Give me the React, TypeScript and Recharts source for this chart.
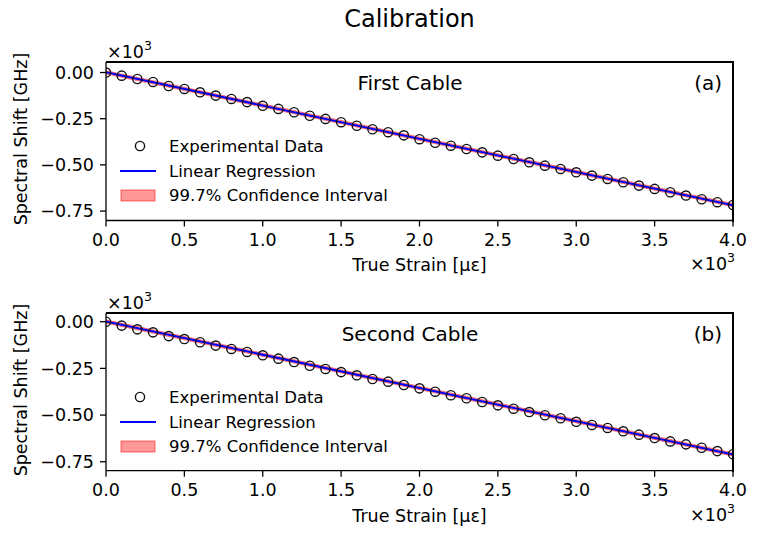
import { ComposedChart, XAxis, YAxis, Area, Line, Scatter } from 'recharts'

document.body.style.margin = '0'

const FONT = '"DejaVu Sans", sans-serif'

// strain in units of 10^3 microstrain
const strain = [
  0, 0.1, 0.2, 0.3, 0.4, 0.5, 0.6, 0.7, 0.8, 0.9,
  1.0, 1.1, 1.2, 1.3, 1.4, 1.5, 1.6, 1.7, 1.8, 1.9,
  2.0, 2.1, 2.2, 2.3, 2.4, 2.5, 2.6, 2.7, 2.8, 2.9,
  3.0, 3.1, 3.2, 3.3, 3.4, 3.5, 3.6, 3.7, 3.8, 3.9, 4.0,
]

// spectral shift in units of 10^3 GHz
const firstShift = [
  0, -0.017, -0.035, -0.051, -0.073, -0.089, -0.107, -0.125, -0.143, -0.160,
  -0.180, -0.197, -0.215, -0.234, -0.251, -0.269, -0.288, -0.307, -0.323, -0.340,
  -0.361, -0.380, -0.396, -0.414, -0.432, -0.450, -0.468, -0.486, -0.504, -0.522,
  -0.540, -0.558, -0.576, -0.594, -0.612, -0.630, -0.648, -0.666, -0.686, -0.702, -0.717,
]
const secondShift = [
  0, -0.021, -0.041, -0.057, -0.077, -0.093, -0.110, -0.128, -0.146, -0.162,
  -0.180, -0.198, -0.216, -0.236, -0.253, -0.270, -0.287, -0.307, -0.321, -0.339,
  -0.357, -0.375, -0.394, -0.410, -0.430, -0.448, -0.466, -0.484, -0.501, -0.517,
  -0.536, -0.553, -0.569, -0.587, -0.605, -0.623, -0.641, -0.657, -0.675, -0.693, -0.710,
]

// regression end points and 99.7% band limits
const fitStrain = [0, 4.0]
const firstFit = [0.001, -0.718]
const firstLow = [-0.008, -0.727]
const firstHigh = [0.010, -0.709]
const secondFit = [0.001, -0.711]
const secondLow = [-0.008, -0.720]
const secondHigh = [0.010, -0.702]

const xTicks = [0, 0.5, 1.0, 1.5, 2.0, 2.5, 3.0, 3.5, 4.0]
const yTicks = [-0.75, -0.5, -0.25, 0]

const fmtY = (v: number) => (v < 0 ? '\u2212' : '') + Math.abs(v).toFixed(2)
const fmtX = (v: number) => v.toFixed(1)

const W = 759
const PANEL_H = 268
const PLOT_LEFT = 106
const PLOT_RIGHT = 733
const AXIS = { stroke: '#000', strokeWidth: 1.3 }
const TICK = { fill: '#000', fontSize: 17.5, fontFamily: FONT }

const OpenCircle = (props: any) => (
  <circle cx={props.cx} cy={props.cy} r={4.6} fill="none" stroke="#111" strokeWidth={1.4} />
)

function Panel({ shift, fit, low, high, domain, plotTop, plotBottom, offset }: {
  shift: number[]; fit: number[]; low: number[]; high: number[]
  domain: [number, number]; plotTop: number; plotBottom: number; offset: number
}) {
  const points = strain.map((x, i) => ({ x, y: shift[i] }))
  const line = fitStrain.map((x, i) => ({ x, y: fit[i] }))
  const band = fitStrain.map((x, i) => ({ x, range: [low[i], high[i]] }))
  const top = plotTop - offset
  const bottom = PANEL_H - (plotBottom - offset) - 30

  return (
    <div style={{ position: 'absolute', left: 0, top: offset, width: W, height: PANEL_H }}>
      <ComposedChart width={W} height={PANEL_H}
        margin={{ top, right: W - PLOT_RIGHT, bottom, left: 0 }}>
        <XAxis type="number" dataKey="x" domain={[0, 4]} ticks={xTicks} tickFormatter={fmtX}
          allowDataOverflow height={30} axisLine={AXIS} tickLine={AXIS} tickSize={6} tickMargin={7} tick={TICK} />
        <YAxis type="number" dataKey="y" domain={domain} ticks={yTicks} tickFormatter={fmtY}
          allowDataOverflow width={PLOT_LEFT} axisLine={AXIS} tickLine={AXIS} tickSize={6} tickMargin={6} tick={TICK} />
        <Area data={band} dataKey="range" type="linear" fill="#ff0000" fillOpacity={0.4}
          stroke="#ff0000" strokeOpacity={0.45} strokeWidth={1} isAnimationActive={false} />
        <Line data={line} dataKey="y" type="linear" stroke="#0000ff" strokeWidth={2}
          dot={false} activeDot={false} isAnimationActive={false} />
        <Scatter data={points} dataKey="y" shape={OpenCircle} isAnimationActive={false} />
      </ComposedChart>
      {/* top and right spines */}
      <div style={{
        position: 'absolute', left: PLOT_LEFT, top: top - 1, width: PLOT_RIGHT - PLOT_LEFT - 1,
        height: PANEL_H - top - bottom - 30, borderTop: '2px solid #000', borderRight: '2px solid #000',
        pointerEvents: 'none', boxSizing: 'content-box',
      }} />
    </div>
  )
}

function PanelText({ dy, name, tag }: { dy: number; name: string; tag: string }) {
  return (
    <g transform={`translate(0, ${dy})`} fontFamily={FONT} fill="#000">
      <text x={107} y={58} fontSize={17.5}>
        ×10<tspan dy={-8} fontSize={12.5}>3</tspan>
      </text>
      <text x={410} y={90} fontSize={20} textAnchor="middle">{name}</text>
      <text x={722} y={90} fontSize={20} textAnchor="end">{tag}</text>
      <text x={419.5} y={271} fontSize={17.5} textAnchor="middle">True Strain [με]</text>
      <text x={735} y={270} fontSize={17.5} textAnchor="end">
        ×10<tspan dy={-8} fontSize={12.5}>3</tspan>
      </text>
      <text transform="translate(26.5, 139) rotate(-90)" fontSize={17.5} textAnchor="middle">
        Spectral Shift [GHz]
      </text>
      {/* legend */}
      <circle cx={140} cy={146} r={4.6} fill="none" stroke="#111" strokeWidth={1.4} />
      <text x={169} y={152} fontSize={16.5}>Experimental Data</text>
      <line x1={120} x2={156} y1={171} y2={171} stroke="#0000ff" strokeWidth={2} />
      <text x={169} y={176.5} fontSize={16.5}>Linear Regression</text>
      <rect x={121} y={190} width={34} height={11} fill="#ff0000" fillOpacity={0.4}
        stroke="#ff0000" strokeOpacity={0.45} strokeWidth={1.2} />
      <text x={169} y={201} fontSize={16.5}>99.7% Confidence Interval</text>
    </g>
  )
}

export default function App() {
  return (
    <div style={{ position: 'relative', width: W, height: 536, background: '#fff' }}>
      <Panel shift={firstShift} fit={firstFit} low={firstLow} high={firstHigh}
        domain={[-0.801, 0.057]} plotTop={62} plotBottom={220.5} offset={0} />
      <Panel shift={secondShift} fit={secondFit} low={secondLow} high={secondHigh}
        domain={[-0.798, 0.045]} plotTop={313.3} plotBottom={470.7} offset={PANEL_H} />
      <svg width={W} height={536} style={{ position: 'absolute', left: 0, top: 0, pointerEvents: 'none' }}>
        <text x={409.5} y={27} fontSize={24} fontFamily={FONT} textAnchor="middle" fill="#000">Calibration</text>
        <PanelText dy={0} name="First Cable" tag="(a)" />
        <PanelText dy={251} name="Second Cable" tag="(b)" />
      </svg>
    </div>
  )
}
